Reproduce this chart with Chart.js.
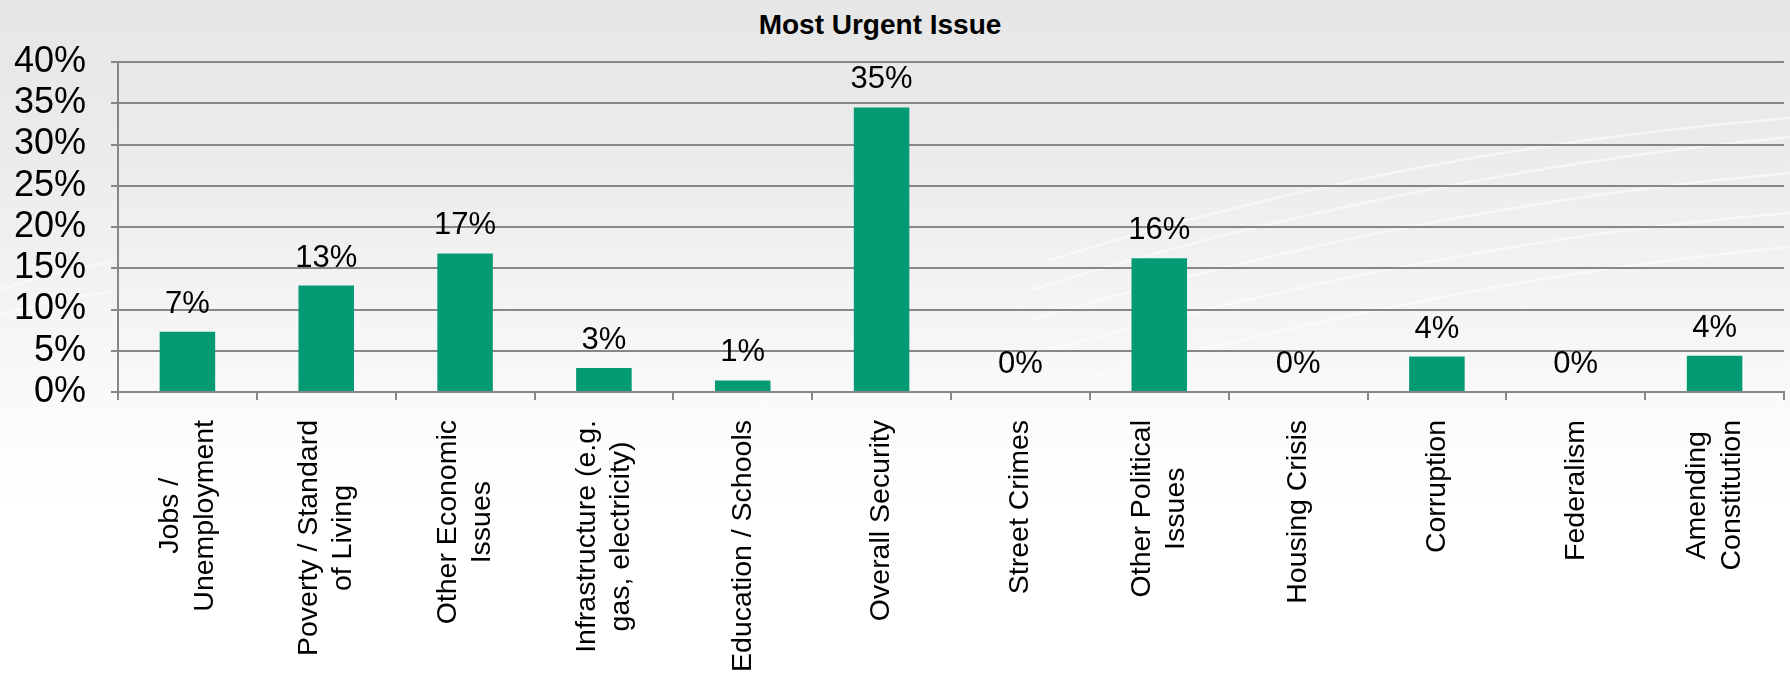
<!DOCTYPE html>
<html>
<head>
<meta charset="utf-8">
<title>Most Urgent Issue</title>
<script src="https://cdn.jsdelivr.net/npm/chart.js@4.4.0/dist/chart.umd.min.js"></script>
<style>
  html, body { margin: 0; padding: 0; }
  body {
    width: 1790px;
    height: 676px;
    overflow: hidden;
    position: relative;
    font-family: Arial, 'Liberation Sans', sans-serif;
    background: linear-gradient(to bottom, #e6e6e6 0%, #ececec 25%, #f4f4f4 45%, #fbfbfb 62%, #ffffff 75%);
  }
  .swoosh { position: absolute; left: 0; top: 0; }
  .chart-title {
    position: absolute;
    top: 9px;
    left: 880px;
    transform: translateX(-50%);
    font-weight: bold;
    font-size: 28px;
    white-space: nowrap;
    color: #000;
  }
  .chart-wrap { position: absolute; left: 0; top: 0; width: 1790px; height: 676px; }
</style>
</head>
<body>
<!-- faint white swoosh lines of the slide background -->
<svg class="swoosh" width="1790" height="676">
  <g fill="none" stroke="#ffffff" stroke-width="2.5" opacity="0.55">
    <path d="M 1050 260 Q 1400 150 1790 118" />
    <path d="M 1030 290 Q 1400 175 1790 137" />
    <path d="M 1030 320 Q 1420 205 1790 173" />
    <path d="M 1050 350 Q 1450 240 1790 213" />
    <path d="M 1080 380 Q 1480 275 1790 247" />
    <path d="M 0 290 Q 40 275 110 262" />
    <path d="M 0 315 Q 50 300 110 292" />
  </g>
</svg>
<div class="chart-title">Most Urgent Issue</div>
<div class="chart-wrap"><canvas id="urgentChart"></canvas></div>

<script>
// --- data ---
const categories = [
  ['Jobs /', 'Unemployment'],
  ['Poverty / Standard', 'of Living'],
  ['Other Economic', 'Issues'],
  ['Infrastructure (e.g.', 'gas, electricity)'],
  ['Education / Schools'],
  ['Overall Security'],
  ['Street Crimes'],
  ['Other Political', 'Issues'],
  ['Housing Crisis'],
  ['Corruption'],
  ['Federalism'],
  ['Amending', 'Constitution'],
];
const shares = [7.3, 12.9, 16.8, 2.9, 1.4, 34.5, 0, 16.2, 0, 4.3, 0, 4.4];
const yTicks = [0, 5, 10, 15, 20, 25, 30, 35, 40];

const BAR_GREEN = '#049b74';
const GRID_GREY = '#878787';
const FONT = 'Arial, "Liberation Sans", sans-serif';
const X_FONT_SIZE = 28.5;
const X_LINE_H = 34.5;

// value labels above each bar
const barValueLabels = {
  id: 'barValueLabels',
  afterDatasetsDraw(chart) {
    const ctx = chart.ctx;
    const meta = chart.getDatasetMeta(0);
    ctx.save();
    ctx.font = `31px ${FONT}`;
    ctx.fillStyle = '#000';
    ctx.textAlign = 'center';
    ctx.textBaseline = 'alphabetic';
    meta.data.forEach((bar, i) => {
      ctx.fillText(Math.round(shares[i]) + '%', bar.x, bar.y - 19);
    });
    ctx.restore();
  },
};

// rotated category labels, lines centred on each other (like the original)
const rotatedCategoryLabels = {
  id: 'rotatedCategoryLabels',
  afterDraw(chart) {
    const ctx = chart.ctx;
    const xs = chart.scales.x;
    ctx.save();
    ctx.font = `${X_FONT_SIZE}px ${FONT}`;
    ctx.fillStyle = '#000';
    ctx.textAlign = 'center';
    ctx.textBaseline = 'middle';
    categories.forEach((lines, i) => {
      const cx = xs.getPixelForTick(i);
      const top = xs.top + 8 + 20;
      const maxW = Math.max(...lines.map(l => ctx.measureText(l).width));
      ctx.save();
      ctx.translate(cx, top);
      ctx.rotate(-Math.PI / 2);
      lines.forEach((line, j) => {
        const v = (j - (lines.length - 1) / 2) * X_LINE_H;
        ctx.fillText(line, -maxW / 2, v);
      });
      ctx.restore();
    });
    ctx.restore();
  },
};

const ctx = document.getElementById('urgentChart').getContext('2d');
new Chart(ctx, {
  type: 'bar',
  data: {
    labels: categories,
    datasets: [{
      data: shares,
      backgroundColor: BAR_GREEN,
      borderWidth: 0,
      categoryPercentage: 1,
      barPercentage: 0.4,
    }],
  },
  options: {
    responsive: true,
    maintainAspectRatio: false,
    animation: false,
    layout: { padding: { top: 62, left: 14, right: 6, bottom: 0 } },
    plugins: {
      legend: { display: false },
      tooltip: { enabled: false },
      title: { display: false },
    },
    scales: {
      x: {
        offset: true,
        border: { display: true, color: GRID_GREY, width: 2 },
        grid: { offset: true, drawOnChartArea: false, drawTicks: true, tickLength: 8, color: GRID_GREY, lineWidth: 2 },
        ticks: { display: false, autoSkip: false },
        afterFit(scale) {
          scale.height = 284;
          scale.paddingLeft = 0;
          scale.paddingRight = 0;
        },
      },
      y: {
        min: 0,
        max: 40,
        afterBuildTicks(scale) { scale.ticks = yTicks.map(v => ({ value: v })); },
        border: { display: true, color: GRID_GREY, width: 2 },
        grid: { color: GRID_GREY, lineWidth: 2, drawTicks: true, tickLength: 7 },
        ticks: {
          autoSkip: false,
          padding: 25,
          color: '#000',
          font: { family: FONT, size: 36 },
          callback: v => v + '%',
        },
        afterFit(scale) {
          scale.width = 104;
          scale.paddingTop = 0;
          scale.paddingBottom = 0;
        },
      },
    },
  },
  plugins: [barValueLabels, rotatedCategoryLabels],
});
</script>
</body>
</html>
